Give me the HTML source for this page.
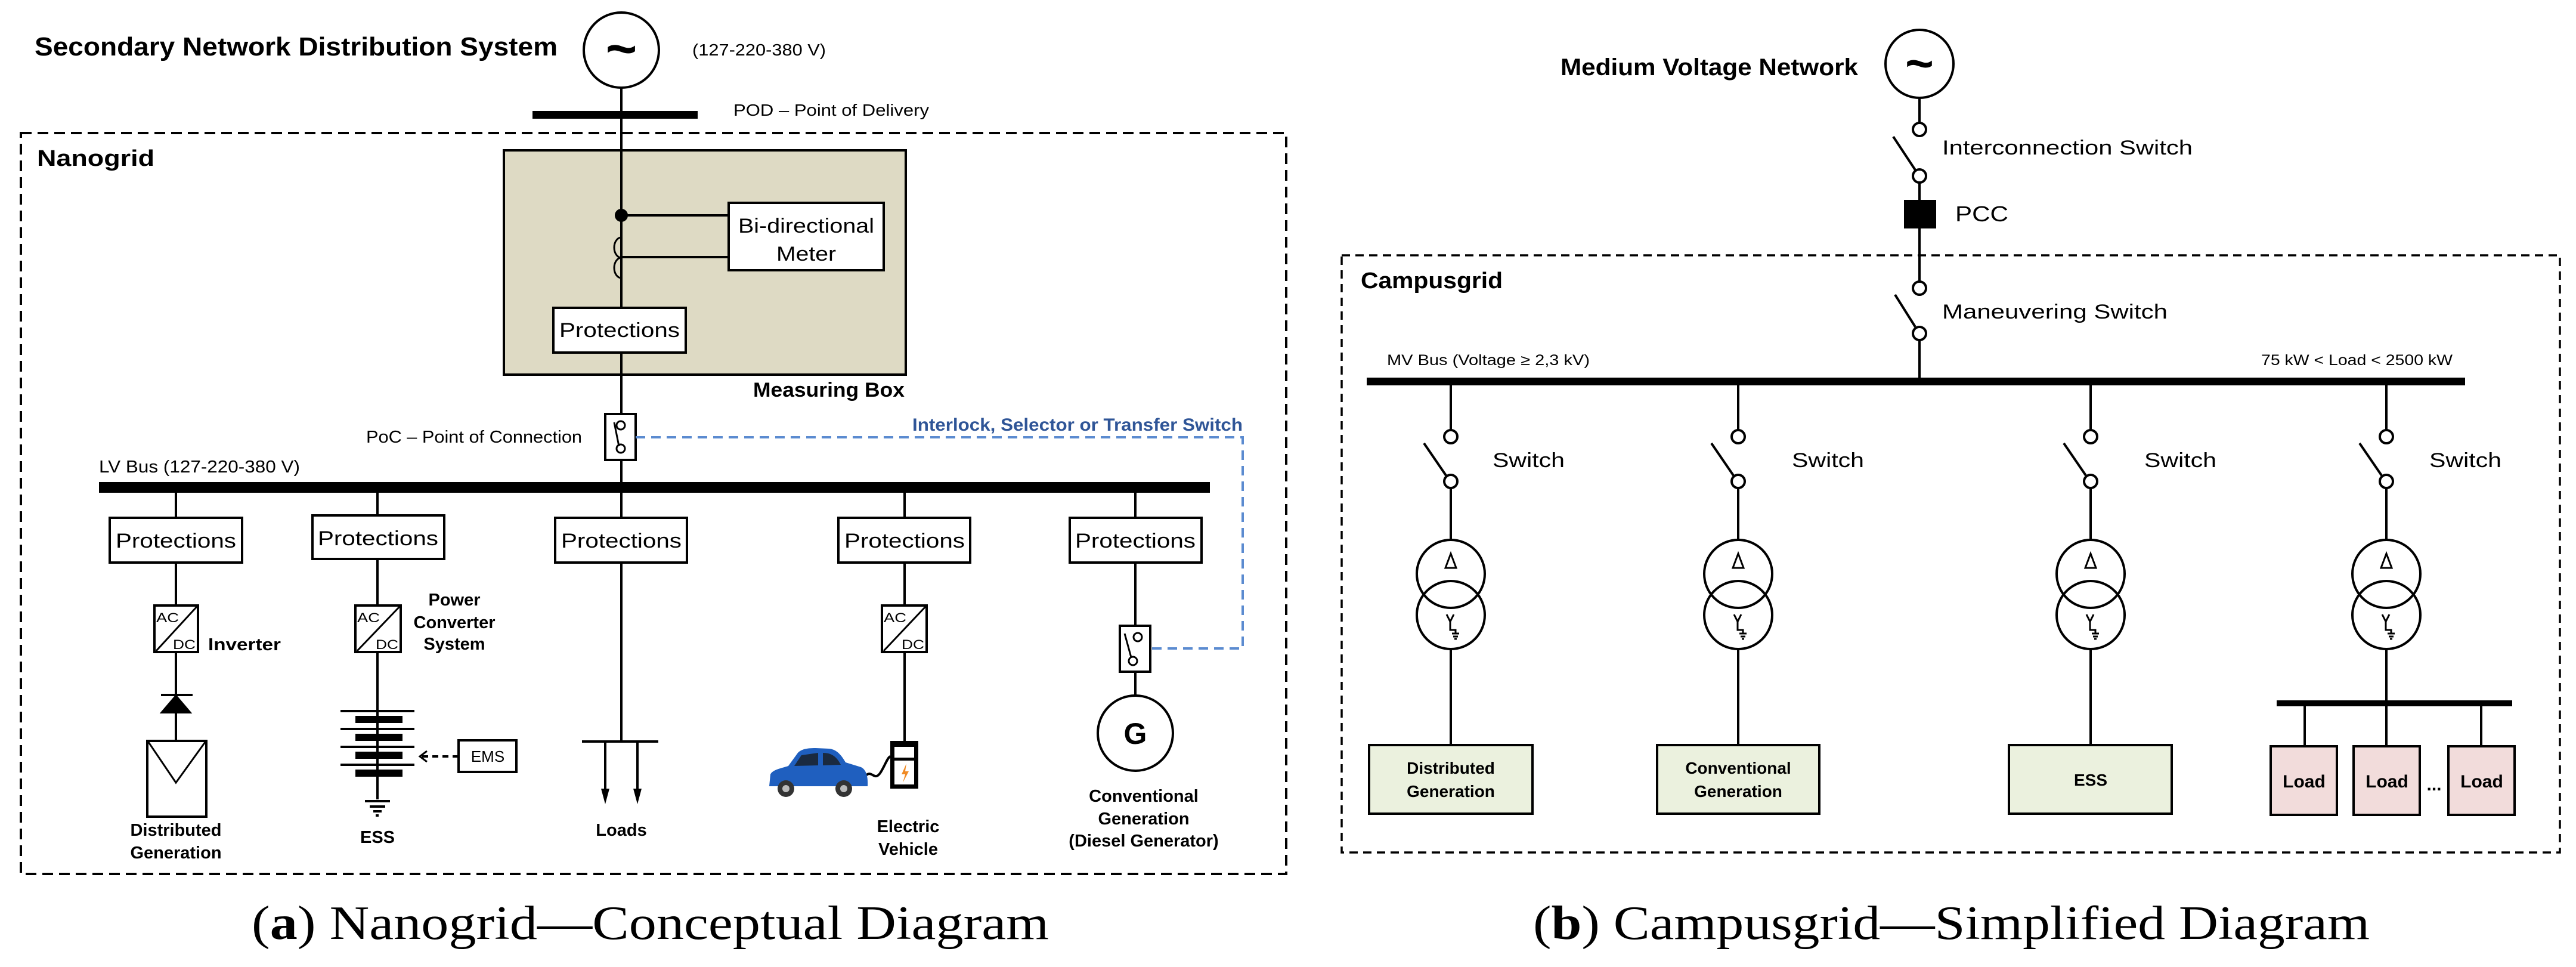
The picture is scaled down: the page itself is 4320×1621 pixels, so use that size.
<!DOCTYPE html>
<html><head><meta charset="utf-8"><style>
html,body{margin:0;padding:0;background:#fff}
svg{display:block}
text{font-family:"Liberation Sans",Arial,sans-serif}
.b{font-weight:bold}
.cap{font-family:"Liberation Serif",serif}
</style></head><body>
<svg width="4320" height="1621" viewBox="0 0 4320 1621" xmlns="http://www.w3.org/2000/svg">
<g stroke="#000" stroke-width="4" fill="none">
<rect x="35" y="223" width="2122" height="1242" stroke-dasharray="18,10"/>
<circle cx="1042" cy="84" r="63"/>
<line x1="1042" y1="147" x2="1042" y2="810"/>
<rect x="893" y="186" width="277" height="13" fill="#000" stroke="none"/>
<rect x="845" y="252" width="674" height="376" fill="#dedac4"/>
<line x1="1042" y1="252" x2="1042" y2="694"/>
<circle cx="1042" cy="361" r="9" fill="#000"/>
<line x1="1042" y1="361" x2="1222" y2="361"/>
<line x1="1042" y1="431" x2="1222" y2="431"/>
<path d="M1042 398 A12 17 0 0 0 1042 432 A12 17 0 0 0 1042 466" stroke-width="3"/>
<rect x="1222" y="340" width="260" height="113" fill="#fff"/>
<rect x="928" y="516" width="222" height="75" fill="#fff"/>
<rect x="1015" y="694" width="51" height="77" fill="#fff"/>
<circle cx="1041" cy="713" r="7" stroke-width="3"/>
<circle cx="1041" cy="752" r="7" stroke-width="3"/>
<line x1="1030" y1="708" x2="1038" y2="748" stroke-width="3"/>
<path d="M1066 733 H2084 V1087 H1929" stroke="#5b8bd0" stroke-dasharray="16,10"/>
<rect x="166" y="808" width="1863" height="18" fill="#000" stroke="none"/>
<line x1="295" y1="826" x2="295" y2="1242"/>
<line x1="633" y1="826" x2="633" y2="1340"/>
<line x1="1042" y1="826" x2="1042" y2="1243"/>
<line x1="1517" y1="826" x2="1517" y2="1242"/>
<line x1="1904" y1="826" x2="1904" y2="1166"/>
<rect x="184" y="868" width="222" height="75" fill="#fff"/>
<rect x="524" y="864" width="221" height="73" fill="#fff"/>
<rect x="931" y="868" width="221" height="75" fill="#fff"/>
<rect x="1406" y="868" width="221" height="75" fill="#fff"/>
<rect x="1794" y="868" width="221" height="75" fill="#fff"/>
<rect x="259" y="1015" width="73" height="78" fill="#fff"/>
<line x1="262" y1="1091" x2="330" y2="1017" stroke-width="3"/>
<rect x="596" y="1015" width="76" height="78" fill="#fff"/>
<line x1="599" y1="1091" x2="670" y2="1017" stroke-width="3"/>
<rect x="1479" y="1015" width="75" height="78" fill="#fff"/>
<line x1="1482" y1="1091" x2="1552" y2="1017" stroke-width="3"/>
<line x1="270" y1="1165" x2="323" y2="1165"/>
<polygon points="295,1167 272,1194 318,1194" fill="#000"/>
<rect x="247" y="1242" width="99" height="127" fill="#fff"/>
<polyline points="249,1244 295,1312 344,1244" stroke-width="3"/>
<g stroke="none" fill="#000">
<rect x="571" y="1190" width="124" height="4"/><rect x="596" y="1200" width="79" height="12"/>
<rect x="571" y="1220" width="124" height="4"/><rect x="596" y="1230" width="79" height="12"/>
<rect x="571" y="1250" width="124" height="4"/><rect x="596" y="1260" width="79" height="12"/>
<rect x="571" y="1280" width="124" height="4"/><rect x="596" y="1290" width="79" height="12"/>
<rect x="612" y="1341" width="42" height="4"/><rect x="620" y="1350" width="26" height="4"/>
<rect x="626" y="1358" width="14" height="4"/><rect x="630" y="1365" width="5" height="4"/>
</g>
<rect x="769" y="1241" width="97" height="53" fill="#fff"/>
<line x1="769" y1="1268" x2="706" y2="1268" stroke-dasharray="10,7"/>
<polyline points="716,1259 704,1268 716,1277" stroke-width="3"/>
<line x1="976" y1="1243" x2="1104" y2="1243"/>
<line x1="1015" y1="1243" x2="1015" y2="1325"/>
<line x1="1069" y1="1243" x2="1069" y2="1325"/>
<polygon points="1008,1322 1022,1322 1015,1348" fill="#000" stroke="none"/>
<polygon points="1062,1322 1076,1322 1069,1348" fill="#000" stroke="none"/>
<rect x="1493" y="1242" width="47" height="80" fill="#000" stroke="none"/>
<rect x="1500" y="1252" width="33" height="18" fill="#fff" stroke="none"/>
<rect x="1500" y="1275" width="33" height="40" fill="#fff" stroke="none"/>
<path d="M1520 1280 L1512 1298 L1518 1298 L1514 1312 L1524 1293 L1518 1293 Z" fill="#f08a24" stroke="none"/>
<path d="M1452 1300 C1462 1290 1466 1310 1476 1296 C1484 1284 1488 1270 1493 1268" stroke-width="4"/>
<path d="M1290 1318 L1292 1298 C1296 1290 1310 1288 1322 1284 L1338 1262 C1344 1256 1352 1254 1368 1254 L1390 1255 C1402 1256 1410 1264 1418 1278 L1444 1286 C1452 1290 1456 1300 1455 1318 Z" fill="#1f5fbf" stroke="none"/>
<path d="M1344 1266 L1332 1284 L1372 1283 L1372 1262 Z M1380 1262 L1380 1283 L1410 1282 C1404 1270 1396 1262 1380 1262 Z" fill="#1a2a40" stroke="none"/>
<circle cx="1318" cy="1322" r="14" fill="#333" stroke="none"/><circle cx="1318" cy="1322" r="6" fill="#bbb" stroke="none"/>
<circle cx="1415" cy="1322" r="14" fill="#333" stroke="none"/><circle cx="1415" cy="1322" r="6" fill="#bbb" stroke="none"/>
<rect x="1878" y="1049" width="51" height="77" fill="#fff"/>
<circle cx="1908" cy="1068" r="7" stroke-width="3"/>
<circle cx="1900" cy="1108" r="7" stroke-width="3"/>
<line x1="1886" y1="1062" x2="1897" y2="1102" stroke-width="3"/>
<line x1="1904" y1="1126" x2="1904" y2="1166"/>
<circle cx="1904" cy="1229" r="63"/>

<rect x="2250" y="428" width="2043" height="1001" stroke-dasharray="14,9" stroke-width="3.5"/>
<circle cx="3219" cy="107" r="57"/>
<line x1="3219" y1="164" x2="3219" y2="205"/>
<circle cx="3219" cy="217" r="11" fill="#fff"/>
<line x1="3175" y1="229" x2="3212" y2="285"/>
<circle cx="3219" cy="295" r="11" fill="#fff"/>
<line x1="3219" y1="306" x2="3219" y2="472"/>
<rect x="3193" y="335" width="54" height="48" fill="#000" stroke="none"/>
<circle cx="3219" cy="483" r="11" fill="#fff"/>
<line x1="3178" y1="494" x2="3212" y2="548"/>
<circle cx="3219" cy="559" r="11" fill="#fff"/>
<line x1="3219" y1="570" x2="3219" y2="635"/>
<rect x="2292" y="633" width="1842" height="13" fill="#000" stroke="none"/>
</g>
<g stroke="#000" stroke-width="4" fill="none">
<g transform="translate(2433,0)"><line x1="0" y1="645" x2="0" y2="721"/><circle cx="0" cy="732" r="11" fill="#fff"/><line x1="-45" y1="743" x2="-8" y2="797"/><circle cx="0" cy="807" r="11" fill="#fff"/><line x1="0" y1="818" x2="0" y2="905"/><circle cx="0" cy="962" r="57"/><circle cx="0" cy="1031" r="57"/><line x1="0" y1="1088" x2="0" y2="1249"/></g>
<g transform="translate(2915,0)"><line x1="0" y1="645" x2="0" y2="721"/><circle cx="0" cy="732" r="11" fill="#fff"/><line x1="-45" y1="743" x2="-8" y2="797"/><circle cx="0" cy="807" r="11" fill="#fff"/><line x1="0" y1="818" x2="0" y2="905"/><circle cx="0" cy="962" r="57"/><circle cx="0" cy="1031" r="57"/><line x1="0" y1="1088" x2="0" y2="1249"/></g>
<g transform="translate(3506,0)"><line x1="0" y1="645" x2="0" y2="721"/><circle cx="0" cy="732" r="11" fill="#fff"/><line x1="-45" y1="743" x2="-8" y2="797"/><circle cx="0" cy="807" r="11" fill="#fff"/><line x1="0" y1="818" x2="0" y2="905"/><circle cx="0" cy="962" r="57"/><circle cx="0" cy="1031" r="57"/><line x1="0" y1="1088" x2="0" y2="1249"/></g>
<g transform="translate(4002,0)"><line x1="0" y1="645" x2="0" y2="721"/><circle cx="0" cy="732" r="11" fill="#fff"/><line x1="-45" y1="743" x2="-8" y2="797"/><circle cx="0" cy="807" r="11" fill="#fff"/><line x1="0" y1="818" x2="0" y2="905"/><circle cx="0" cy="962" r="57"/><circle cx="0" cy="1031" r="57"/><line x1="0" y1="1088" x2="0" y2="1251"/></g>
<g stroke-width="3">
<g transform="translate(2433,0)"><polygon points="0,928 -9,952 9,952"/><path d="M-7 1030 L-1 1042 L5 1030 M-1 1042 V1056 H8 V1062 M2 1062 H14 M4 1067 H12 M6 1071 H10"/></g>
<g transform="translate(2915,0)"><polygon points="0,928 -9,952 9,952"/><path d="M-7 1030 L-1 1042 L5 1030 M-1 1042 V1056 H8 V1062 M2 1062 H14 M4 1067 H12 M6 1071 H10"/></g>
<g transform="translate(3506,0)"><polygon points="0,928 -9,952 9,952"/><path d="M-7 1030 L-1 1042 L5 1030 M-1 1042 V1056 H8 V1062 M2 1062 H14 M4 1067 H12 M6 1071 H10"/></g>
<g transform="translate(4002,0)"><polygon points="0,928 -9,952 9,952"/><path d="M-7 1030 L-1 1042 L5 1030 M-1 1042 V1056 H8 V1062 M2 1062 H14 M4 1067 H12 M6 1071 H10"/></g>
</g>
<rect x="2296" y="1249" width="274" height="115" fill="#ebf1de"/>
<rect x="2779" y="1249" width="272" height="115" fill="#ebf1de"/>
<rect x="3369" y="1249" width="273" height="115" fill="#ebf1de"/>
<rect x="3818" y="1174" width="395" height="10" fill="#000" stroke="none"/>
<line x1="3865" y1="1184" x2="3865" y2="1251"/>
<line x1="4161" y1="1184" x2="4161" y2="1251"/>
<rect x="3808" y="1251" width="111" height="115" fill="#f2dcdb"/>
<rect x="3947" y="1251" width="111" height="115" fill="#f2dcdb"/>
<rect x="4106" y="1251" width="111" height="115" fill="#f2dcdb"/>
</g>

<g fill="#000">
<text x="58" y="93" class="b" font-size="44" textLength="877" lengthAdjust="spacingAndGlyphs">Secondary Network Distribution System</text>
<text x="1042" y="112" class="b" font-size="90" text-anchor="middle">~</text>
<text x="1161" y="93" font-size="28" textLength="224" lengthAdjust="spacingAndGlyphs">(127-220-380 V)</text>
<text x="1230" y="194" font-size="28" textLength="328" lengthAdjust="spacingAndGlyphs">POD – Point of Delivery</text>
<text x="62" y="278" class="b" font-size="38" textLength="197" lengthAdjust="spacingAndGlyphs">Nanogrid</text>
<text x="1352" y="390" font-size="34" text-anchor="middle" textLength="228" lengthAdjust="spacingAndGlyphs">Bi-directional</text>
<text x="1352" y="437" font-size="34" text-anchor="middle" textLength="100" lengthAdjust="spacingAndGlyphs">Meter</text>
<text x="1039" y="565" font-size="34" text-anchor="middle" textLength="202" lengthAdjust="spacingAndGlyphs">Protections</text>
<text x="1263" y="665" class="b" font-size="34" textLength="254" lengthAdjust="spacingAndGlyphs">Measuring Box</text>
<text x="614" y="742" font-size="29" textLength="362" lengthAdjust="spacingAndGlyphs">PoC – Point of Connection</text>
<text x="1530" y="722" class="b" font-size="30" fill="#2f5597" textLength="554" lengthAdjust="spacingAndGlyphs">Interlock, Selector or Transfer Switch</text>
<text x="166" y="792" font-size="29" textLength="337" lengthAdjust="spacingAndGlyphs">LV Bus (127-220-380 V)</text>
<g font-size="34" text-anchor="middle">
<text x="295" y="918" textLength="202" lengthAdjust="spacingAndGlyphs">Protections</text>
<text x="634" y="914" textLength="202" lengthAdjust="spacingAndGlyphs">Protections</text>
<text x="1042" y="918" textLength="202" lengthAdjust="spacingAndGlyphs">Protections</text>
<text x="1517" y="918" textLength="202" lengthAdjust="spacingAndGlyphs">Protections</text>
<text x="1904" y="918" textLength="202" lengthAdjust="spacingAndGlyphs">Protections</text>
</g>
<g font-size="22">
<text x="262" y="1043" textLength="38" lengthAdjust="spacingAndGlyphs">AC</text><text x="290" y="1088" textLength="38" lengthAdjust="spacingAndGlyphs">DC</text>
<text x="599" y="1043" textLength="38" lengthAdjust="spacingAndGlyphs">AC</text><text x="630" y="1088" textLength="38" lengthAdjust="spacingAndGlyphs">DC</text>
<text x="1482" y="1043" textLength="38" lengthAdjust="spacingAndGlyphs">AC</text><text x="1512" y="1088" textLength="38" lengthAdjust="spacingAndGlyphs">DC</text>
</g>
<text x="818" y="1277" font-size="26" text-anchor="middle">EMS</text>
<g class="b" font-size="29" text-anchor="middle">
<text x="410" y="1090" textLength="122" lengthAdjust="spacingAndGlyphs">Inverter</text>
<text x="762" y="1015">Power</text>
<text x="762" y="1053">Converter</text>
<text x="762" y="1089">System</text>
<text x="295" y="1401">Distributed</text>
<text x="295" y="1439">Generation</text>
<text x="633" y="1413">ESS</text>
<text x="1042" y="1401">Loads</text>
<text x="1523" y="1395">Electric</text>
<text x="1523" y="1433">Vehicle</text>
<text x="1918" y="1344">Conventional</text>
<text x="1918" y="1382">Generation</text>
<text x="1918" y="1419">(Diesel Generator)</text>
</g>
<text x="1904" y="1247" class="b" font-size="50" text-anchor="middle">G</text>

<text x="2617" y="126" class="b" font-size="40" textLength="499" lengthAdjust="spacingAndGlyphs">Medium Voltage Network</text>
<text x="3219" y="134" class="b" font-size="82" text-anchor="middle">~</text>
<text x="3257" y="259" font-size="34" textLength="420" lengthAdjust="spacingAndGlyphs">Interconnection Switch</text>
<text x="3279" y="371" font-size="36" textLength="89" lengthAdjust="spacingAndGlyphs">PCC</text>
<text x="2282" y="483" class="b" font-size="38" textLength="238" lengthAdjust="spacingAndGlyphs">Campusgrid</text>
<text x="3257" y="534" font-size="34" textLength="378" lengthAdjust="spacingAndGlyphs">Maneuvering Switch</text>
<text x="2326" y="612" font-size="25" textLength="340" lengthAdjust="spacingAndGlyphs">MV Bus (Voltage ≥ 2,3 kV)</text>
<text x="3792" y="612" font-size="25" textLength="321" lengthAdjust="spacingAndGlyphs">75 kW &lt; Load &lt; 2500 kW</text>
<g font-size="34">
<text x="2503" y="783" textLength="121" lengthAdjust="spacingAndGlyphs">Switch</text>
<text x="3005" y="783" textLength="121" lengthAdjust="spacingAndGlyphs">Switch</text>
<text x="3596" y="783" textLength="121" lengthAdjust="spacingAndGlyphs">Switch</text>
<text x="4074" y="783" textLength="121" lengthAdjust="spacingAndGlyphs">Switch</text>
</g>
<g class="b" font-size="28" text-anchor="middle">
<text x="2433" y="1297">Distributed</text>
<text x="2433" y="1336">Generation</text>
<text x="2915" y="1297">Conventional</text>
<text x="2915" y="1336">Generation</text>
<text x="3506" y="1317">ESS</text>
<text x="3864" y="1320" font-size="30">Load</text>
<text x="4003" y="1320" font-size="30">Load</text>
<text x="4162" y="1320" font-size="30">Load</text>
<text x="4082" y="1325" font-size="30">...</text>
</g>

<text x="422" y="1574" class="cap" font-size="80" textLength="1337" lengthAdjust="spacingAndGlyphs">(<tspan font-weight="bold">a</tspan>) Nanogrid—Conceptual Diagram</text>
<text x="2571" y="1574" class="cap" font-size="80" textLength="1403" lengthAdjust="spacingAndGlyphs">(<tspan font-weight="bold">b</tspan>) Campusgrid—Simplified Diagram</text>
</g>
</svg>
</body></html>
